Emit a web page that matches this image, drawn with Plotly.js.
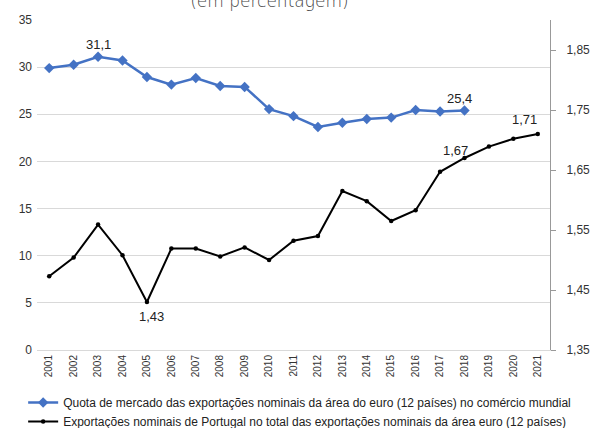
<!DOCTYPE html>
<html>
<head>
<meta charset="utf-8">
<script src="https://cdn.plot.ly/plotly-3.0.1.min.js"></script>
<style>html,body{margin:0;padding:0;background:#fff;}#chart{width:592px;height:428px;}</style>
</head>
<body>
<div id="chart"></div>
<script>
const years = ['2001','2002','2003','2004','2005','2006','2007','2008','2009','2010','2011','2012','2013','2014','2015','2016','2017','2018','2019','2020','2021'];
const quotaYears = years.slice(0, 18);
const quotaEuro = [29.9, 30.25, 31.1, 30.7, 28.95, 28.15, 28.85, 28.0, 27.9, 25.55, 24.8, 23.65, 24.1, 24.5, 24.65, 25.45, 25.3, 25.4];
const portugalShare = [1.473, 1.504, 1.559, 1.508, 1.43, 1.519, 1.519, 1.506, 1.521, 1.50, 1.532, 1.540, 1.615, 1.598, 1.565, 1.583, 1.647, 1.67, 1.689, 1.702, 1.71];
const quotaName = 'Quota de mercado das exportações nominais da área do euro (12 países) no comércio mundial';
const portugalName = 'Exportações nominais de Portugal no total das exportações nominais da área euro (12 países)';
const titleText = '(em percentagem)';
// labelled points (indices)
const quotaLabels = [2, 17];
const portugalLabels = [4, 17, 20];

const fontFam = 'Liberation Sans, Arial, sans-serif';
const traces = [
  {x: quotaYears, y: quotaEuro, name: quotaName, type: 'scatter', mode: 'lines+markers',
   line: {color: '#4472C4', width: 2.5}, marker: {symbol: 'diamond', size: 8, color: '#4472C4'}},
  {x: years, y: portugalShare, name: portugalName, type: 'scatter', mode: 'lines+markers', yaxis: 'y2',
   line: {color: '#000000', width: 2}, marker: {symbol: 'circle', size: 4.5, color: '#000000'}}
];

function fmt(v, d) { return v.toFixed(d).replace('.', ','); }
const annFont = {family: fontFam, size: 13, color: '#222'};
const shiftsQ = {2: [0, 12], 17: [-5, 12]};
const shiftsP = {4: [5, -14], 17: [-9, 8], 20: [-13, 15]};
const annotations = [];
quotaLabels.forEach(i => annotations.push({x: i, y: quotaEuro[i], xref: 'x', yref: 'y', text: fmt(quotaEuro[i], 1),
  showarrow: false, xshift: shiftsQ[i][0], yshift: shiftsQ[i][1], font: annFont}));
portugalLabels.forEach(i => annotations.push({x: i, y: portugalShare[i], xref: 'x', yref: 'y2', text: fmt(portugalShare[i], 2),
  showarrow: false, xshift: shiftsP[i][0], yshift: shiftsP[i][1], font: annFont}));

const layout = {
  width: 592, height: 428,
  margin: {l: 37, r: 42, t: 20, b: 78},
  paper_bgcolor: '#fff', plot_bgcolor: '#fff',
  separators: ',.',
  font: {family: fontFam, size: 12, color: '#333'},
  title: {text: titleText, x: 0.455, xanchor: 'center', y: 0.997, yref: 'container', yanchor: 'middle',
          font: {family: 'DejaVu Sans, sans-serif', size: 17, weight: 200, color: '#444'}},
  showlegend: true,
  legend: {orientation: 'v', x: -0.027, xref: 'paper', xanchor: 'left', y: 0.0935, yref: 'container', yanchor: 'top',
           font: {family: fontFam, size: 12, color: '#222'}, bgcolor: 'rgba(0,0,0,0)', tracegroupgap: 0},
  xaxis: {type: 'category', range: [-0.5, 20.5], tickangle: -90, showgrid: false, zeroline: false,
          showline: true, linecolor: '#d9d9d9', linewidth: 1, ticks: '', tickfont: {size: 10, color: '#333'}},
  yaxis: {range: [0, 35], dtick: 5, tick0: 0, showgrid: true, gridcolor: '#d9d9d9', gridwidth: 1,
          zeroline: false, showline: false, ticks: '', ticklabelstandoff: 4, tickfont: {size: 12, color: '#333'}},
  yaxis2: {overlaying: 'y', side: 'right', range: [1.35, 1.90], tick0: 1.35, dtick: 0.1, tickformat: '.2f',
           showgrid: false, zeroline: false, showline: true, linecolor: '#999', linewidth: 1,
           ticks: 'outside', ticklen: 5, tickcolor: '#999', ticklabelstandoff: 8, tickfont: {size: 12, color: '#333'}},
  annotations: annotations
};

Plotly.newPlot('chart', traces, layout, {displayModeBar: false, staticPlot: true});
</script>
</body>
</html>
